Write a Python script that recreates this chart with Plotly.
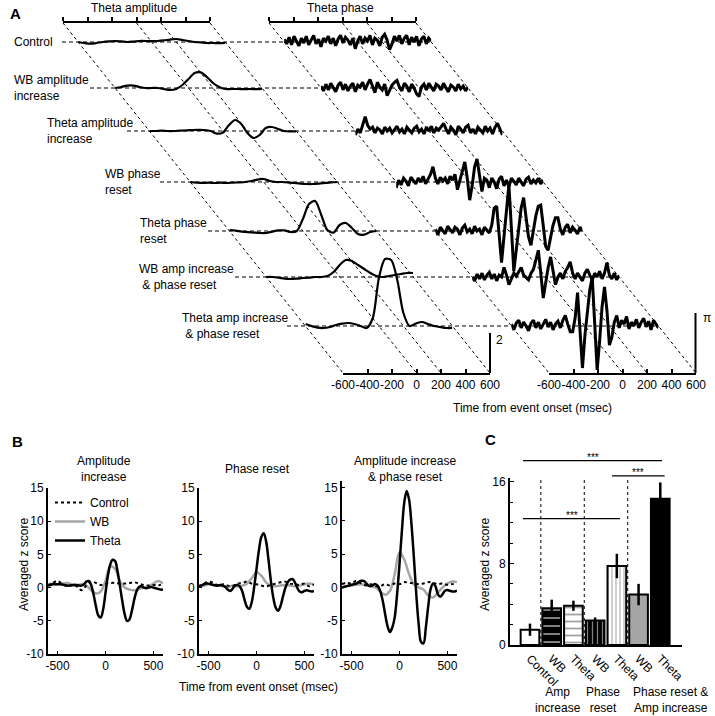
import math
import plotly.graph_objects as go

# ---------------- DATA ----------------
# Panel A: time grids (ms)
T_AMP = list(range(-600, 601, 50))
T_PH = list(range(-600, 601, 20))

ROW_LABELS = ["Control", "WB amplitude<br>increase", "Theta amplitude<br>increase",
              "WB phase<br>reset", "Theta phase<br>reset",
              "WB amp increase<br>&nbsp;&amp; phase reset",
              "Theta amp increase<br>&nbsp;&amp; phase reset"]

amp_control = [0.0, -0.05, -0.08, -0.05, 0.0, 0.03, 0.05, 0.03, 0.0, 0.02, 0.05, 0.05, 0.04,
               0.05, 0.08, 0.12, 0.15, 0.1, 0.05, 0.0, -0.02, -0.05, -0.05, -0.06, -0.05]
amp_wb_amp = [0.0, 0.05, 0.12, 0.12, 0.05, 0.0, 0.0, 0.0, -0.05, -0.1, -0.05, 0.15, 0.45,
              0.75, 0.78, 0.55, 0.25, 0.05, -0.05, -0.05, -0.05, -0.06, -0.05, -0.06, -0.05]
amp_theta_amp = [0.0, 0.0, 0.02, 0.0, 0.0, 0.02, 0.03, 0.05, 0.06, 0.05, 0.0, -0.13, -0.08,
                 0.3, 0.55, 0.35, -0.1, -0.35, -0.2, 0.15, 0.2, 0.1, 0.0, -0.02, -0.02]
amp_wb_phase = [0.0, -0.03, -0.05, -0.03, -0.05, -0.03, -0.05, -0.03, -0.02, 0.0, 0.05, 0.12, 0.15,
                0.05, 0.0, 0.0, -0.02, -0.05, -0.08, -0.1, -0.1, -0.08, -0.05, -0.02, 0.0]
amp_theta_phase = [0.05, 0.02, -0.03, -0.06, -0.08, -0.1, -0.1, -0.03, 0.03, 0.03, -0.05, 0.0, 0.6,
                   1.35, 1.5, 0.8, 0.05, -0.08, 0.3, 0.4, 0.15, -0.15, -0.18, -0.05, 0.0]
amp_wb_both = [0.0, 0.0, -0.03, -0.08, -0.1, -0.08, -0.05, -0.03, 0.0, 0.0, 0.05, 0.25, 0.6,
               0.85, 0.8, 0.6, 0.4, 0.2, 0.05, 0.0, 0.05, 0.1, 0.15, 0.2, 0.2]
amp_theta_both = [0.1, 0.0, -0.08, -0.1, -0.05, 0.05, 0.12, 0.15, 0.1, 0.0, -0.1, 0.4, 2.4,
                  3.35, 3.3, 2.3, 0.65, 0.0, 0.12, 0.2, 0.1, 0.0, -0.05, -0.1, -0.1]

ph_control = [0.15, -0.1, 0.25, -0.15, 0.3, 0.05, -0.2, 0.2, -0.05, 0.3,
              -0.15, 0.1, 0.35, -0.1, 0.15, -0.25, 0.2, 0.05, 0.3, -0.1,
              0.2, -0.2, 0.15, 0.35, -0.05, 0.25, 0.1, -0.15, 0.2, -0.35,
              0.05, 0.3, -0.1, 0.2, 0.05, 0.35, -0.15, 0.2, 0.1, -0.2,
              0.25, 0.4, 0.1, -0.4, -0.1, 0.3, 0.05, 0.35, -0.1, 0.2,
              0.35, -0.15, 0.25, 0.0, 0.3, -0.2, 0.15, 0.3, -0.1, 0.2, 0.05]
ph_wb_amp = [0.1, -0.15, 0.2, -0.1, 0.25, 0.0, -0.2, 0.15, 0.3, -0.1,
             0.2, -0.15, 0.1, 0.25, -0.2, 0.15, 0.05, 0.3, -0.1, 0.2,
             0.45, 0.1, -0.25, 0.3, 0.05, -0.1, 0.2, -0.4, -0.1, 0.15,
             0.3, 0.4, 0.05, -0.15, 0.25, 0.1, -0.2, 0.2, 0.0, -0.3,
             -0.45, 0.05, 0.2, -0.1, 0.25, 0.05, -0.15, 0.2, 0.1, -0.1,
             0.25, 0.0, -0.2, 0.15, 0.05, -0.15, 0.2, -0.05, 0.1, -0.15, 0.05]
ph_theta_amp = [-0.2, 0.1, -0.1, 0.3, 0.75, 0.3, 0.1, 0.2, -0.1, 0.15,
                0.05, -0.15, 0.2, 0.0, 0.15, -0.1, 0.1, 0.25, -0.05, 0.1,
                -0.15, 0.2, 0.05, -0.1, 0.15, 0.25, -0.05, 0.1, -0.15, 0.2,
                0.0, 0.25, -0.1, 0.15, 0.05, 0.2, 0.4, 0.1, -0.15, 0.2,
                0.05, -0.2, 0.25, 0.1, -0.1, 0.2, 0.3, -0.1, 0.1, -0.15,
                0.2, 0.05, -0.1, 0.25, 0.0, 0.15, -0.15, 0.2, 0.4, 0.1, -0.2]
ph_wb_phase = [-0.3, 0.1, -0.15, 0.2, 0.05, -0.2, 0.25, 0.1, -0.1, 0.2,
               0.0, 0.3, -0.1, 0.15, 0.4, 0.8, 0.2, -0.1, 0.25, 0.05,
               0.2, -0.1, 0.3, 0.1, 0.4, -0.4, 0.1, 0.5, 1.05, 0.2,
               -0.95, -0.2, 0.8, 1.2, 0.3, -0.5, 0.2, 0.1, -0.3, 0.2,
               0.0, -0.35, 0.15, 0.3, -0.2, 0.1, -0.25, 0.2, 0.05, -0.15,
               0.2, 0.0, -0.2, 0.15, 0.25, -0.1, 0.1, -0.05, 0.2, -0.1, 0.1]
ph_theta_phase = [0.1, -0.2, 0.2, 0.0, -0.15, 0.25, 0.05, -0.1, 0.2, 0.1,
                  -0.2, 0.15, 0.3, -0.05, 0.1, -0.15, 0.25, 0.0, 0.1, -0.2,
                  0.2, 0.05, -0.1, 0.3, 1.2, 1.3, 0.0, -1.65, -0.3, 1.2,
                  2.4, 0.2, -2.1, -1.0, 0.2, 1.2, 1.75, 0.6, -0.3, -0.75,
                  0.0, 0.8, 1.3, 1.35, 0.3, -0.8, -1.0, -0.3, 0.3, 0.7,
                  0.7, 0.1, -0.2, 0.2, 0.35, -0.1, 0.2, 0.05, -0.15, 0.2, 0.0]
ph_wb_both = [0.0, -0.2, 0.15, -0.1, 0.2, -0.15, 0.1, 0.25, -0.1, 0.15,
              -0.2, 0.1, 0.0, 0.5, 0.1, -0.4, -0.1, 0.2, 0.05, 0.3,
              0.5, 0.1, -0.05, -0.15, 0.2, 0.4, 0.9, 1.4, 0.2, -1.1,
              -0.3, 0.5, 1.05, 0.4, -0.4, 0.0, 0.2, -0.1, 0.3, 0.5,
              0.8, 0.2, -0.1, 0.2, 0.0, -0.2, 0.2, 0.4, 0.1, -0.15,
              0.2, 0.0, 0.3, -0.1, 0.2, 0.75, 0.1, -0.1, 0.2, -0.15, 0.1]
ph_theta_both = [0.1, -0.2, 0.15, 0.3, -0.1, 0.2, 0.0, -0.25, 0.15, 0.3,
                 -0.1, 0.2, -0.15, 0.1, 0.35, -0.05, 0.2, -0.2, 0.1, 0.25,
                 -0.1, 0.3, 0.55, 0.1, -0.3, -0.3, 0.4, 1.75, 0.0, -2.2,
                 -0.5, 0.6, 1.9, 2.55, 0.0, -2.3, -0.8, 1.0, 2.05, 0.8,
                 -1.0, -0.6, 0.2, 0.55, -0.1, 0.3, 0.1, 0.5, -0.15, 0.2,
                 0.0, 0.35, -0.1, 0.2, 0.4, -0.05, 0.25, -0.2, 0.3, 0.1, -0.1]

AMP_ROWS = [amp_control, amp_wb_amp, amp_theta_amp, amp_wb_phase,
            amp_theta_phase, amp_wb_both, amp_theta_both]
PH_ROWS = [ph_control, ph_wb_amp, ph_theta_amp, ph_wb_phase,
           ph_theta_phase, ph_wb_both, ph_theta_both]
A_TICKS = [-600, -400, -200, 0, 200, 400, 600]
A_DIAG_T = [-600, 0, 200, 600]

# Panel B
T_B = list(range(-600, 601, 50))
T_B_FINE = list(range(-600, 601, 25))
B_TITLES = ["Amplitude<br>increase", "Phase reset", "Amplitude increase<br>&amp; phase reset"]
b1_control = [0.3, 0.7, 1.0, 0.5, 0.2, 0.4, 0.2, -0.4, 0.3, 0.9, 0.7, 0.4, 0.6,
              0.7, 0.7, 0.6, 0.6, 0.7, 0.8, 0.6, 0.4, 0.3, 0.4, 0.3, 0.6]
b1_wb = [0.5, 0.6, 0.5, 0.6, 0.7, 0.5, 0.4, 0.5, 0.3, -0.4, -0.9, -0.6, 1.0,
         3.2, 2.8, 1.0, 0.0, -0.3, -0.4, -0.2, 0.0, 0.2, 0.6, 1.0, 0.6]
b1_theta = [0.3, 0.4, 0.5, 0.5, 0.5, 0.5, 0.45, 0.4, 0.3, 0.3, 0.35, 0.4, 0.4, 0.3, 0.3, 0.5,
            0.9, 1.0, 0.4, -1.0, -2.8, -4.2, -4.5, -3.3, -0.8, 1.8, 3.5, 4.2, 4.0, 2.5, 0.3,
            -2.0, -4.0, -5.0, -4.8, -3.5, -1.8, -0.5, 0.1, 0.2, 0.0, -0.1, 0.0, 0.1, 0.0,
            -0.1, -0.2, -0.3, -0.3]
b2_control = [0.2, 0.6, 0.9, 0.7, 0.3, 0.5, 0.3, 0.2, 0.6, 0.7, 0.9, 0.6, 0.5,
              0.3, 0.2, 0.4, 0.6, 0.8, 0.9, 0.6, 0.5, 0.4, 0.6, 0.2, 0.5]
b2_wb = [0.3, 0.3, 0.5, 0.4, 0.3, 0.2, 0.1, 0.3, 0.2, 0.3, 0.6, 1.4, 2.3,
         1.8, 0.8, 0.3, 0.2, 0.3, 0.4, 0.3, 0.2, 0.3, 0.5, 0.6, 0.5]
b2_theta = [0.2, 0.3, 0.5, 0.6, 0.6, 0.5, 0.4, 0.3, 0.3, 0.4, 0.3, 0.1, -0.3, -0.5, -0.2, 0.3,
            0.4, 0.2, -0.5, -1.8, -2.9, -3.2, -2.2, 0.0, 2.8, 5.6, 7.6, 8.2, 7.0, 4.2, 1.0,
            -1.5, -3.0, -3.5, -2.8, -1.4, -0.1, 0.8, 1.2, 1.3, 0.8, 0.0, -0.6, -0.7, -0.5,
            -0.4, -0.5, -0.6, -0.5]
b3_control = [0.5, 0.7, 0.6, 1.0, 0.6, 0.3, 0.5, 0.2, 0.2, 0.5, 0.3, 0.6, 0.5,
              0.8, 0.7, 0.6, 0.5, 0.6, 0.8, 0.7, 0.5, 0.6, 0.4, 0.5, 0.6]
b3_wb = [0.0, 0.2, 0.3, 0.4, 0.5, 0.4, 0.2, 0.0, -0.6, -1.1, -0.5, 2.0, 5.3,
         4.2, 2.0, 0.5, 0.0, -0.3, -1.2, -1.5, -0.8, 0.0, 0.6, 0.9, 0.8]
b3_theta = [0.0, 0.1, 0.2, 0.3, 0.4, 0.5, 0.6, 0.8, 1.0, 1.0, 0.7, 0.3, 0.2, 0.4, 0.5, 0.2,
            -0.6, -2.0, -4.0, -5.8, -6.7, -6.0, -4.5, -1.0, 3.5, 8.5, 12.8, 14.5, 13.2, 9.5,
            4.5, -1.0, -5.5, -8.2, -8.4, -6.0, -2.8, -0.2, 0.6, 0.2, -1.0, -1.4, -1.0, -0.5,
            -0.4, -0.5, -0.6, -0.6, -0.5]
B_CONTROL = [b1_control, b2_control, b3_control]
B_WB = [b1_wb, b2_wb, b3_wb]
B_THETA = [b1_theta, b2_theta, b3_theta]

# Panel C
C_LABELS = ["Control", "WB", "Theta", "WB", "Theta", "WB", "Theta"]
C_MEANS = [1.5, 3.6, 3.85, 2.4, 7.75, 4.95, 14.35]
C_ERRS = [0.6, 0.85, 0.5, 0.3, 1.2, 1.05, 1.6]
C_GROUPS = ["Amp<br>increase", "Phase<br>reset", "Phase reset &amp;<br>Amp increase"]

# ---------------- LAYOUT HELPERS ----------------
W, H = 715, 716
FONT = "Liberation Sans, Arial, sans-serif"
FS = 12


def fx(px):
    return px / W


def fy(py):
    return 1 - py / H


layout = dict(width=W, height=H, margin=dict(l=0, r=0, t=0, b=0, autoexpand=False),
              paper_bgcolor="white", plot_bgcolor="rgba(0,0,0,0)",
              font=dict(family=FONT, size=FS, color="black"),
              showlegend=True, shapes=[], annotations=[])
fig = go.Figure()
_count = [0]


def new_axes(xpx, ypx, xr, yr, xkw=None, ykw=None):
    _count[0] += 1
    k = _count[0]
    s = "" if k == 1 else str(k)
    xa = dict(domain=[max(0, fx(xpx[0])), min(1, fx(xpx[1]))], range=xr, anchor="y" + s,
              showgrid=False, zeroline=False, automargin=False, fixedrange=True)
    ya = dict(domain=[max(0, fy(ypx[1])), min(1, fy(ypx[0]))], range=yr, anchor="x" + s,
              showgrid=False, zeroline=False, automargin=False, fixedrange=True)
    if xkw is None:
        xa["visible"] = False
    else:
        xa.update(xkw)
    if ykw is None:
        ya["visible"] = False
    else:
        ya.update(ykw)
    layout["xaxis" + s] = xa
    layout["yaxis" + s] = ya
    return "x" + s, "y" + s


def line(x0, y0, x1, y1, width=1, dash=None, layer="above"):
    d = dict(type="line", xref="paper", yref="paper", x0=fx(x0), y0=fy(y0), x1=fx(x1), y1=fy(y1),
             line=dict(color="black", width=width), layer=layer)
    if dash:
        d["line"]["dash"] = dash
    layout["shapes"].append(d)


def text(px, py, s, xanchor="center", yanchor="middle", size=FS, angle=0, bold=False, align="center"):
    layout["annotations"].append(dict(x=fx(px), y=fy(py), xref="paper", yref="paper", text=s,
                                      showarrow=False, xanchor=xanchor, yanchor=yanchor,
                                      textangle=angle, align=align,
                                      font=dict(size=size, family=FONT, color="black",
                                                weight="bold" if bold else "normal")))


HIDDEN_Y = dict(showline=False, showticklabels=False, ticks="")

# ---------------- PANEL A ----------------
AMP_X0, PH_X0, TOP_Y, BOT_Y, SPAN, SHEAR = 63, 269, 23, 373, 147, 0.8
AMP_PX = 20.0            # px per amplitude unit (scale bar "2" = 40 px)
PH_PX = 60.0 / math.pi   # px per radian (scale bar "pi" = 60 px)
ROW_Y = [42, 88, 131, 182, 231, 277, 326]
LABEL_X = [12, 12, 45, 103, 138, 137, 180]
DASH_X0 = [62, 90, 127, 160, 208, 235, 287]


def t2px(x0, t):
    return x0 + (t + 600) / 1200 * SPAN


# diagonal guides
for x0 in (AMP_X0, PH_X0):
    for t in A_DIAG_T:
        xt = t2px(x0, t)
        line(xt, TOP_Y, xt + (BOT_Y - TOP_Y) * SHEAR, BOT_Y, width=1, dash="3px,3px", layer="below")

for r in range(7):
    yb = ROW_Y[r]
    shift = (yb - TOP_Y) * SHEAR
    top, bot = max(yb - 95, 0), yb + 60
    # dashed baseline
    line(DASH_X0[r], yb, PH_X0 + shift + SPAN, yb, width=1.2, dash="4px,3px", layer="below")
    xa, ya = new_axes((AMP_X0 + shift, AMP_X0 + shift + SPAN), (top, bot), [-600, 600],
                      [-(bot - yb) / AMP_PX, (yb - top) / AMP_PX])
    fig.add_trace(go.Scatter(x=T_AMP, y=AMP_ROWS[r], xaxis=xa, yaxis=ya, mode="lines",
                             line=dict(color="black", width=2.2, shape="spline", smoothing=0.8),
                             showlegend=False, hoverinfo="skip"))
    xa, ya = new_axes((PH_X0 + shift, PH_X0 + shift + SPAN), (top, bot), [-600, 600],
                      [-(bot - yb) / PH_PX, (yb - top) / PH_PX])
    fig.add_trace(go.Scatter(x=T_PH, y=PH_ROWS[r], xaxis=xa, yaxis=ya, mode="lines",
                             line=dict(color="black", width=3),
                             showlegend=False, hoverinfo="skip"))
    text(LABEL_X[r], yb, ROW_LABELS[r], xanchor="left", align="left")

tick_txt = [str(v) for v in A_TICKS]
for x0 in (AMP_X0, PH_X0):
    # top scale
    xa, ya = new_axes((x0, x0 + SPAN), (TOP_Y, TOP_Y + 10), [-600, 600], [0, 1],
                      xkw=dict(side="top", showline=True, linecolor="black", linewidth=2,
                               ticks="outside", ticklen=4, tickwidth=1.5, tickcolor="black",
                               tickvals=A_TICKS, showticklabels=False),
                      ykw=HIDDEN_Y)
    fig.add_trace(go.Scatter(x=[], y=[], xaxis=xa, yaxis=ya, showlegend=False))
    # bottom scale
    bx = x0 + (BOT_Y - TOP_Y) * SHEAR
    xa, ya = new_axes((bx, bx + SPAN), (BOT_Y - 10, BOT_Y), [-600, 600], [0, 1],
                      xkw=dict(side="bottom", showline=True, linecolor="black", linewidth=2,
                               ticks="inside", ticklen=4, tickwidth=1.5, tickcolor="black",
                               tickvals=A_TICKS, ticktext=tick_txt, tickangle=0,
                               tickfont=dict(size=FS)),
                      ykw=HIDDEN_Y)
    fig.add_trace(go.Scatter(x=[], y=[], xaxis=xa, yaxis=ya, showlegend=False))

# scale bars
amp_bar_x = AMP_X0 + (BOT_Y - TOP_Y) * SHEAR + SPAN
ph_bar_x = PH_X0 + (BOT_Y - TOP_Y) * SHEAR + SPAN
line(amp_bar_x, BOT_Y - 2 * AMP_PX, amp_bar_x, BOT_Y, width=2)
line(ph_bar_x - 0.5, BOT_Y - math.pi * PH_PX, ph_bar_x - 0.5, BOT_Y, width=2)
text(amp_bar_x + 4, BOT_Y - 2 * AMP_PX + 7, "2", xanchor="left")
text(ph_bar_x + 5, BOT_Y - math.pi * PH_PX + 5, "π", xanchor="left")

text(134, 8, "Theta amplitude")
text(340, 8, "Theta phase")
text(532, 408, "Time from event onset (msec)")
text(8, 13, "A", xanchor="left", size=15, bold=True)

# ---------------- PANEL B ----------------
B_X = [(48, 163), (199, 314), (342, 457)]
B_TOP = [488, 488, 481]
B_YMAX = [15, 15, 16]
B_TITLE_X = [104, 257, 405]
for i in range(3):
    xa, ya = new_axes(B_X[i], (B_TOP[i], 654), [-600, 600], [-10, B_YMAX[i]],
                      xkw=dict(showline=True, linecolor="black", linewidth=2, ticks="inside",
                               ticklen=3, tickcolor="black", tickvals=[-500, 0, 500],
                               ticktext=["-500", "0", "500"], tickangle=0),
                      ykw=dict(showline=True, linecolor="black", linewidth=2, ticks="inside",
                               ticklen=3, tickcolor="black", tickvals=[-10, -5, 0, 5, 10, 15],
                               ticktext=["-10", "-5", "0", "5", "10", "15"]))
    fig.add_trace(go.Scatter(x=T_B, y=B_WB[i], xaxis=xa, yaxis=ya, mode="lines", name="WB",
                             line=dict(color="#a6a6a6", width=2.5, shape="spline"),
                             showlegend=(i == 0), legendrank=2, hoverinfo="skip"))
    fig.add_trace(go.Scatter(x=T_B, y=B_CONTROL[i], xaxis=xa, yaxis=ya, mode="lines", name="Control",
                             line=dict(color="black", width=2, dash="dot", shape="spline"),
                             showlegend=(i == 0), legendrank=1, hoverinfo="skip"))
    fig.add_trace(go.Scatter(x=T_B_FINE, y=B_THETA[i], xaxis=xa, yaxis=ya, mode="lines", name="Theta",
                             line=dict(color="black", width=2.5, shape="spline"),
                             showlegend=(i == 0), legendrank=3, hoverinfo="skip"))
    text(B_TITLE_X[i], 469, B_TITLES[i])

layout["legend"] = dict(x=fx(50), y=fy(488), xanchor="left", yanchor="top",
                        bgcolor="rgba(0,0,0,0)", font=dict(size=FS, family=FONT),
                        itemwidth=30, tracegroupgap=0, traceorder="normal")
text(24, 565, "Averaged z score", angle=-90)
text(258, 687, "Time from event onset (msec)")
text(10, 441, "B", xanchor="left", size=15, bold=True)

# ---------------- PANEL C ----------------
C_Y0, C_PXU = 645, 10.19
xc, yc = new_axes((510, 682), (478, C_Y0), [-0.92, 7.0], [0, (C_Y0 - 478) / C_PXU],
                  xkw=dict(showline=True, linecolor="black", linewidth=2, ticks="",
                           tickvals=list(range(7)), ticktext=C_LABELS, tickangle=45,
                           tickfont=dict(size=FS)),
                  ykw=dict(showline=True, linecolor="black", linewidth=2, ticks="inside",
                           ticklen=4, tickcolor="black", tickvals=[0, 8, 16],
                           minor=dict(tickvals=[2, 4, 6, 10, 12, 14], ticks="inside",
                                      ticklen=3, tickcolor="black")))
C_BG = ["white", "black", "white", "black", "white", "#a6a6a6", "black"]
C_FG = ["black", "white", "black", "white", "black", "black", "black"]
C_SHAPE = ["", "-", "-", "|", "|", "", ""]
fig.add_trace(go.Bar(x=list(range(7)), y=C_MEANS, xaxis=xc, yaxis=yc, width=0.86,
                     marker=dict(color=C_BG, line=dict(color="black", width=2),
                                 pattern=dict(shape=C_SHAPE, fgcolor=C_FG, bgcolor=C_BG,
                                              size=[8, 8, 7, 5, 4, 8, 8], solidity=0.25)),
                     error_y=dict(type="data", array=C_ERRS, color="black", thickness=2.5, width=0),
                     showlegend=False, hoverinfo="skip"))
for xs in (0.5, 2.5, 4.5):
    layout["shapes"].append(dict(type="line", xref=xc, yref=yc + " domain", x0=xs, x1=xs, y0=0, y1=1,
                                 line=dict(color="black", width=1, dash="3px,3px"), layer="below"))


def cy(v):
    return fy(C_Y0 - v * C_PXU)


for (xa0, xa1, lv) in ((-0.32, 6.08, 18.1), (3.78, 6.2, 16.6), (-0.32, 4.15, 12.4)):
    layout["shapes"].append(dict(type="line", xref=xc, yref="paper", x0=xa0, x1=xa1, y0=cy(lv), y1=cy(lv),
                                 line=dict(color="black", width=1.2)))
    layout["annotations"].append(dict(x=(xa0 + xa1) / 2, y=cy(lv), xref=xc, yref="paper", text="***",
                                      showarrow=False, yanchor="bottom", yshift=-4,
                                      font=dict(size=10, family=FONT, color="black")))
text(485, 565, "Averaged z score", angle=-90)
for gx, gt in zip((558, 603, 670), C_GROUPS):
    text(gx, 700, gt)
text(483, 439, "C", xanchor="left", size=15, bold=True)

fig.update_layout(**layout)
fig.write_html("out.html", config={"displayModeBar": False},
               post_script="document.body.style.margin='0';document.body.style.overflow='hidden';")
